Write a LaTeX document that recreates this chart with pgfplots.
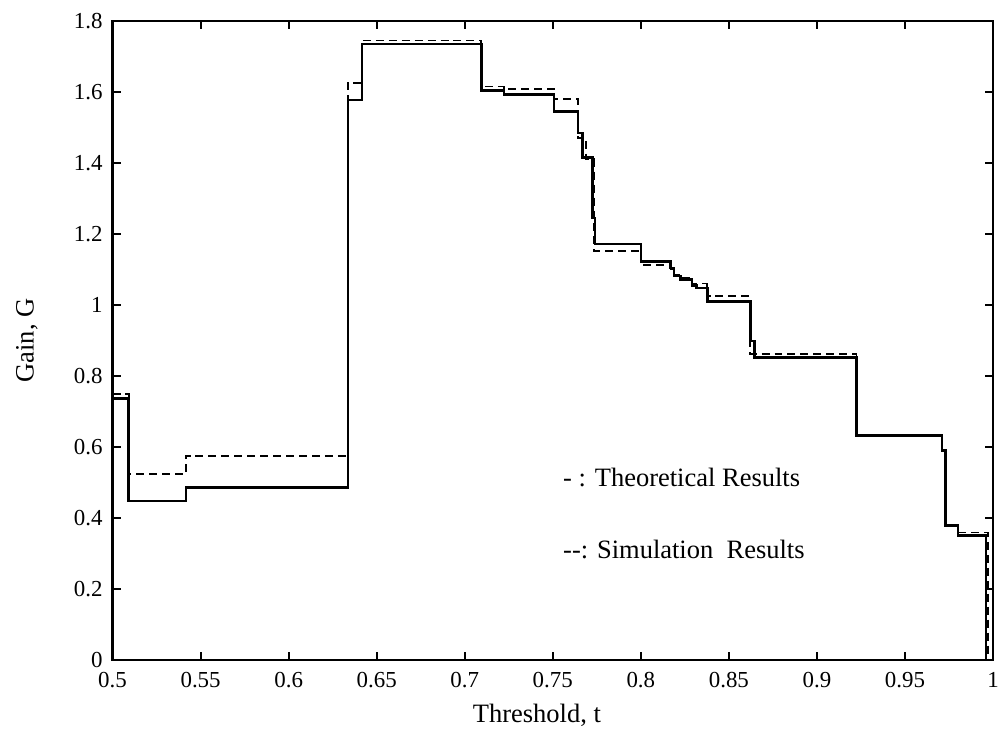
\documentclass[border=0pt]{standalone}
\usepackage{fontspec}
\setmainfont{Liberation Serif}
\usepackage{pgfplots}
\pgfplotsset{compat=1.18}
\begin{document}
\fontsize{11.5}{13}\selectfont
\begin{tikzpicture}
\useasboundingbox (-56.5pt,-44.25pt) rectangle (445pt,331.25pt);
\begin{axis}[
  at={(0,0)}, anchor=south west,
  scale only axis, width=442pt, height=320.75pt,
  xmin=0.5, xmax=1, ymin=0, ymax=1.8,
  axis line style={line width=1.3pt},
  tick style={line width=1pt, black},
  tick align=inside, major tick length=4pt,
  xtick={0.5,0.55,0.6,0.65,0.7,0.75,0.8,0.85,0.9,0.95,1},
  xticklabels={0.5,0.55,0.6,0.65,0.7,0.75,0.8,0.85,0.9,0.95,1},
  ytick={0,0.2,0.4,0.6,0.8,1,1.2,1.4,1.6,1.8},
  yticklabels={0,0.2,0.4,0.6,0.8,1,1.2,1.4,1.6,1.8},
  /pgf/number format/assume math mode=true,
  ticklabel style={font=\fontsize{11.5}{13}\selectfont},
  xticklabel style={yshift=-2pt},
  yticklabel style={xshift=-1pt},
  xlabel={Threshold, t},
  ylabel={Gain, G},
  xlabel style={at={(axis description cs:0.5,0)}, anchor=center, xshift=-8pt, yshift=-28pt, font=\fontsize{13.3}{15}\selectfont},
  ylabel style={at={(axis description cs:0,0.5)}, anchor=center, xshift=0pt, yshift=43pt, font=\fontsize{13.3}{15}\selectfont},
]
\addplot[black, line width=1.3pt] coordinates {
(0.5,0.737) (0.5092,0.737) (0.5092,0.448) (0.5417,0.448) (0.5417,0.485)
(0.6337,0.485) (0.6337,1.577) (0.6416,1.577) (0.6416,1.735) (0.7094,1.735)
(0.7094,1.604) (0.7223,1.604) (0.7223,1.592) (0.7506,1.592) (0.7506,1.545)
(0.7643,1.545) (0.7643,1.484) (0.767,1.484) (0.767,1.415) (0.7726,1.415)
(0.7726,1.245) (0.774,1.245) (0.774,1.172) (0.800,1.172) (0.800,1.123)
(0.8169,1.123) (0.8169,1.104) (0.8188,1.104) (0.8188,1.081) (0.8226,1.081)
(0.8226,1.071) (0.829,1.071) (0.829,1.055) (0.8316,1.055) (0.8316,1.048)
(0.8377,1.048) (0.8377,1.010) (0.8622,1.010) (0.8622,0.898) (0.8646,0.898)
(0.8646,0.851) (0.9225,0.851) (0.9225,0.632) (0.971,0.632) (0.971,0.59)
(0.9729,0.59) (0.9729,0.378) (0.980,0.378) (0.980,0.350) (0.996,0.350) (0.996,0)
};
\addplot[black, line width=0.9pt, dash pattern=on 4pt off 2.5pt] coordinates {
(0.5,0.748) (0.5092,0.748) (0.5092,0.523) (0.5417,0.523) (0.5417,0.575)
(0.6335,0.575) (0.6335,1.626) (0.6416,1.626) (0.6416,1.745) (0.7094,1.745)
(0.7094,1.615) (0.7223,1.615) (0.7223,1.608) (0.7506,1.608) (0.7506,1.580)
(0.7643,1.580) (0.7643,1.470) (0.769,1.470) (0.769,1.410) (0.7735,1.410)
(0.7735,1.151) (0.800,1.151) (0.800,1.113) (0.8169,1.113) (0.8169,1.100)
(0.8188,1.100) (0.8188,1.085) (0.8226,1.085) (0.8226,1.075) (0.829,1.075)
(0.829,1.060) (0.8377,1.060) (0.8377,1.024) (0.8622,1.024) (0.8622,0.862)
(0.9225,0.862) (0.9225,0.635) (0.971,0.635) (0.971,0.590) (0.9729,0.590)
(0.9729,0.380) (0.980,0.380) (0.980,0.359) (0.997,0.359) (0.997,0)
};
\node[anchor=west, inner sep=0pt, font=\fontsize{13.3}{15}\selectfont] at (axis cs:0.7557,0.515) {- : Theoretical Results};
\node[anchor=west, inner sep=0pt, font=\fontsize{13.3}{15}\selectfont] at (axis cs:0.7557,0.312) {-{}-: Simulation\ \ Results};
\end{axis}
\end{tikzpicture}
\end{document}
